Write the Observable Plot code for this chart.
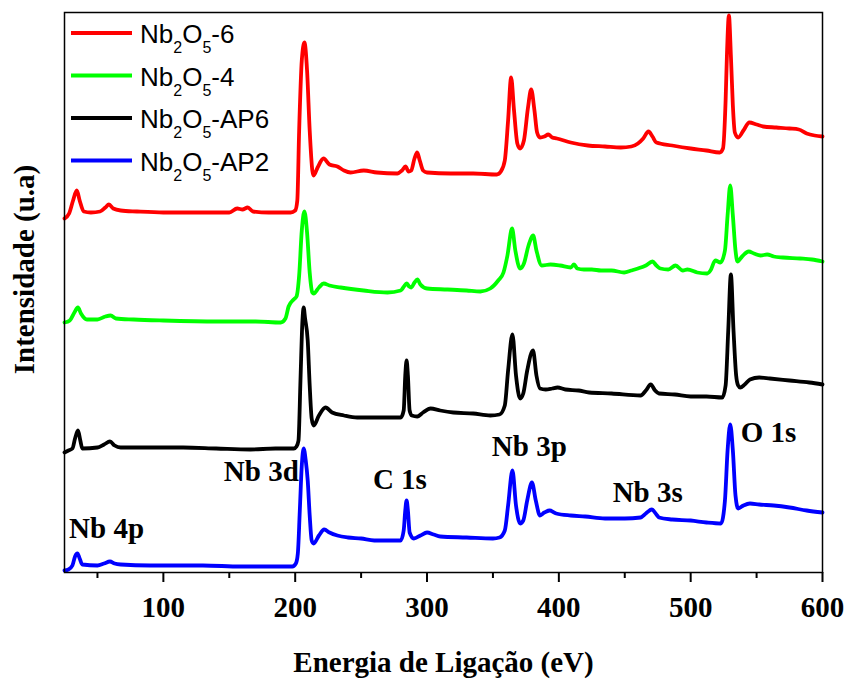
<!DOCTYPE html>
<html>
<head>
<meta charset="utf-8">
<script src="https://cdn.jsdelivr.net/npm/d3@7"></script>
<script src="https://cdn.jsdelivr.net/npm/@observablehq/plot@0.6"></script>
<style>
  body { margin: 0; background: #fff; }
  #chart { width: 847px; height: 679px; }
</style>
</head>
<body>
<div id="chart"></div>
<script>
// Series (legend order)
const seriesKeys = ["Nb2O5-6", "Nb2O5-4", "Nb2O5-AP6", "Nb2O5-AP2"];
const legendSuffix = ["-6", "-4", "-AP6", "-AP2"];
const seriesColors = ["#ff0000", "#00ff00", "#000000", "#0000ff"];

// Nb2O5-6 (red)
const energy6 = [25,28.5,31.5,34.3,36.5,39.6,45,52,56,58.7,62,67.6,80,100,130,150,156,160,164,168,180,196.5,200,201.6,203,205,207,209,211,213,214,217,221.5,226,232,237,242,252,262,277.5,281,283.7,286,288,290.5,292.5,294.5,297,300,318,335,353,356,359,361.5,363.8,366,368.5,370.6,373.5,376.5,379,381.5,383.5,385.7,389,392,395,398.5,409,422,435,447,455,460,464,468,471,474,486,500,512,522,524.5,526.5,527.5,529,530.5,532,533.5,536,540,544.5,550,555,565,575,582,588,594,600];
const intensity6 = [354,359,372,382,372,361,360,361,365,368,364,362,361,360,360,360,364,363,365,361,360,360,362,372,442,512,530,502,442,402,397,405,414,408,406,402,400,402,400,399,402,406,401,402,414,420,412,402,400,399,399,398,401,412,452,495,462,429,424,432,464,483,462,440,435,436,438,435,434,430,427,426,425,426,429,434,441,436,430,427,424,422,420,424,472,517,557,517,467,440,435,442,450,448,446,445,444,443,439,437,436];

// Nb2O5-4 (green)
const energy4 = [25,29,32.5,35.2,37.5,42,50,56,60,64,77.5,100,141,170,189,192.6,195,198.8,201,203,205,207,209,211,213,214,218,221.6,226,234.5,252,270,280,282.5,284.5,286.5,288,290.5,292.7,295,300,315.5,330,340.5,348,354,358,361,364.5,367,370.6,373.5,377,380.5,383,387,393.7,401,409,411.5,414,419,425,432,440,449.5,455,460,466,471,474,477,483,488.5,494,497.5,505,512.5,515,518.7,522.6,526,528,530,532,534,535.5,539,544,548,553,558,563,570,583,592,600];
const intensity4 = [250,252,260,265,259,253,253,256,257,254,253,252,251,251,250,254,266,273,276,297,342,361,340,300,280,279,285,289,287,285,282,280,282,286,289,286,285,290,293,288,284,283,282,281,284,292,300,317,344,322,304,309,327,337,322,307,308,307,305,308,304,303,303,302,302,300,302,304,307,311,307,304,303,307,302,303,300,299,302,312,310,322,357,387,357,322,311,316,321,319,317,318,316,315,314,313,311];

// Nb2O5-AP6 (black)
const energyAP6 = [25,28,31,33,35.2,37,38.5,50,55,59.5,63,67.6,90,115,140,166,185,199,201,202.5,204,205.5,206.4,207.5,209.5,211,212.5,214,218,223,228,237,247,260,272,280,282.3,283.5,284.5,285.5,286.8,288.5,292.6,297,302.7,310,320,335,348,355,359,361.5,364.8,367.5,370.6,373,376,380.4,383,385.7,390,395,399,405,415,423,440,462,466,469.7,473,476,488,500,512,524,526.5,528.5,530.5,532.5,534.5,536,537.5,541,545,552,560,575,590,600];
const intensityAP6 = [120,122,124,134,142,132,124,125,128,131,127,125,125,125,124,123,124,124,126,132,192,252,265,254,232,187,154,147,157,165,160,157,155,155,155,155,162,197,212,197,162,157,156,160,164,162,160,159,157,158,167,202,238,197,174,179,202,222,197,184,183,184,185,183,182,180,179,177,182,188,182,179,178,176,176,175,187,242,298,242,197,187,185,188,193,195,194,192,190,188];

// Nb2O5-AP2 (blue)
const energyAP2 = [25,28,31,33,34.8,36.5,38.5,50,55,59.5,63,67.6,90,108,130,158.6,180,197.8,200.5,202,203.5,205,206.4,208,209.5,211,212.5,214,218,222,226,232,240,250,260,272,280,282.3,283.5,284.5,285.5,286.8,290,295,300,305,310,330,350,355,359,361.5,364.8,367.5,370.6,373,376,379.6,382.5,385.7,389,393,398,409,420,435,450,462,466,470.5,474,476,486,500,512,523,526,528,530,532,534,536,540,545,552,563,575,588,600];
const intensityAP2 = [2,3,7,16,19,14,8,7,9,11,9,8,7,7,7,6,6,6,9,19,62,107,124,112,92,57,32,29,37,43,40,37,35,34,32,32,32,42,62,72,62,40,34,37,40,38,36,35,34,35,42,67,102,67,49,52,72,90,72,57,60,62,59,57,56,54,54,55,59,63,58,55,53,52,50,49,72,122,148,122,77,64,67,69,68,67,65,62,60];

const energies = [energy6, energy4, energyAP6, energyAP2];
const intensities = [intensity6, intensity4, intensityAP6, intensityAP2];

// Axis ticks and texts
const majorTicks = [100, 200, 300, 400, 500, 600];
const minorTicks = [50, 150, 250, 350, 450, 550];
const xTitle = "Energia de Ligação (eV)";
const yTitle = "Intensidade (u.a)";

// Peak annotations
const peakNames = ["Nb 4p", "Nb 3d", "C 1s", "Nb 3p", "Nb 3s", "O 1s"];
const peakEnergy = [56.9, 174.3, 279.4, 377.6, 467.4, 559];
const peakIntensity = [44, 101, 93, 126, 80, 140];

// Build table
const rows = [];
seriesKeys.forEach((key, i) => {
  energies[i].forEach((e, j) => rows.push({series: key, energy: e, intensity: intensities[i][j]}));
});
const peaks = peakNames.map((name, i) => ({name, energy: peakEnergy[i], intensity: peakIntensity[i]}));

const serif = "'Liberation Serif', 'Times New Roman', Times, serif";

const chart = Plot.plot({
  width: 847,
  height: 679,
  marginLeft: 64,
  marginRight: 25,
  marginTop: 12,
  marginBottom: 107,
  x: {domain: [25, 600], label: null},
  y: {domain: [0, 560], axis: null},
  color: {domain: seriesKeys, range: seriesColors},
  style: {fontFamily: serif, fontSize: "29px", fontWeight: "bold", color: "#000", background: "#fff", overflow: "visible"},
  marks: [
    Plot.line(rows, {x: "energy", y: "intensity", z: "series", stroke: "series", strokeWidth: 3.8, curve: "monotone-x", strokeLinejoin: "round"}),
    Plot.frame({stroke: "#000", strokeWidth: 1.5}),
    Plot.axisX(majorTicks, {tickSize: 10, tickPadding: 14, strokeWidth: 2, stroke: "#000", fontSize: 29, fontWeight: "bold", tickFormat: d => String(d), label: null}),
    Plot.axisX(minorTicks, {tickSize: 6, strokeWidth: 2, stroke: "#000", tickFormat: () => "", label: null}),
    Plot.text(peaks, {x: "energy", y: "intensity", text: "name", fontSize: 29, fontWeight: "bold", fill: "#000"}),
    Plot.text([xTitle], {frameAnchor: "bottom", dy: 90, lineAnchor: "middle", textAnchor: "middle", fontSize: 29, fontWeight: "bold", fill: "#000"}),
    Plot.text([yTitle], {frameAnchor: "left", rotate: -90, dx: -40, dy: -23, lineAnchor: "middle", textAnchor: "middle", fontSize: 29, fontWeight: "bold", fill: "#000"})
  ]
});

document.getElementById("chart").appendChild(chart);

// Legend inside the frame (top-left)
const svg = d3.select(chart);
const lg = svg.append("g")
  .attr("font-family", "'Liberation Sans', Arial, Helvetica, sans-serif")
  .attr("font-weight", "normal")
  .attr("font-size", 26)
  .attr("text-anchor", "start")
  .attr("fill", "#000");
seriesKeys.forEach((key, i) => {
  const y = 33 + 42.5 * i;
  lg.append("line")
    .attr("x1", 71).attr("x2", 132).attr("y1", y).attr("y2", y)
    .attr("stroke", seriesColors[i]).attr("stroke-width", 4);
  const t = lg.append("text").attr("x", 140).attr("y", y + 10).attr("text-anchor", "start");
  t.append("tspan").text("Nb");
  t.append("tspan").attr("font-size", 16).attr("dy", 10).text("2");
  t.append("tspan").attr("dy", -10).text("O");
  t.append("tspan").attr("font-size", 16).attr("dy", 10).text("5");
  t.append("tspan").attr("dy", -10).text(legendSuffix[i]);
});
</script>
</body>
</html>
